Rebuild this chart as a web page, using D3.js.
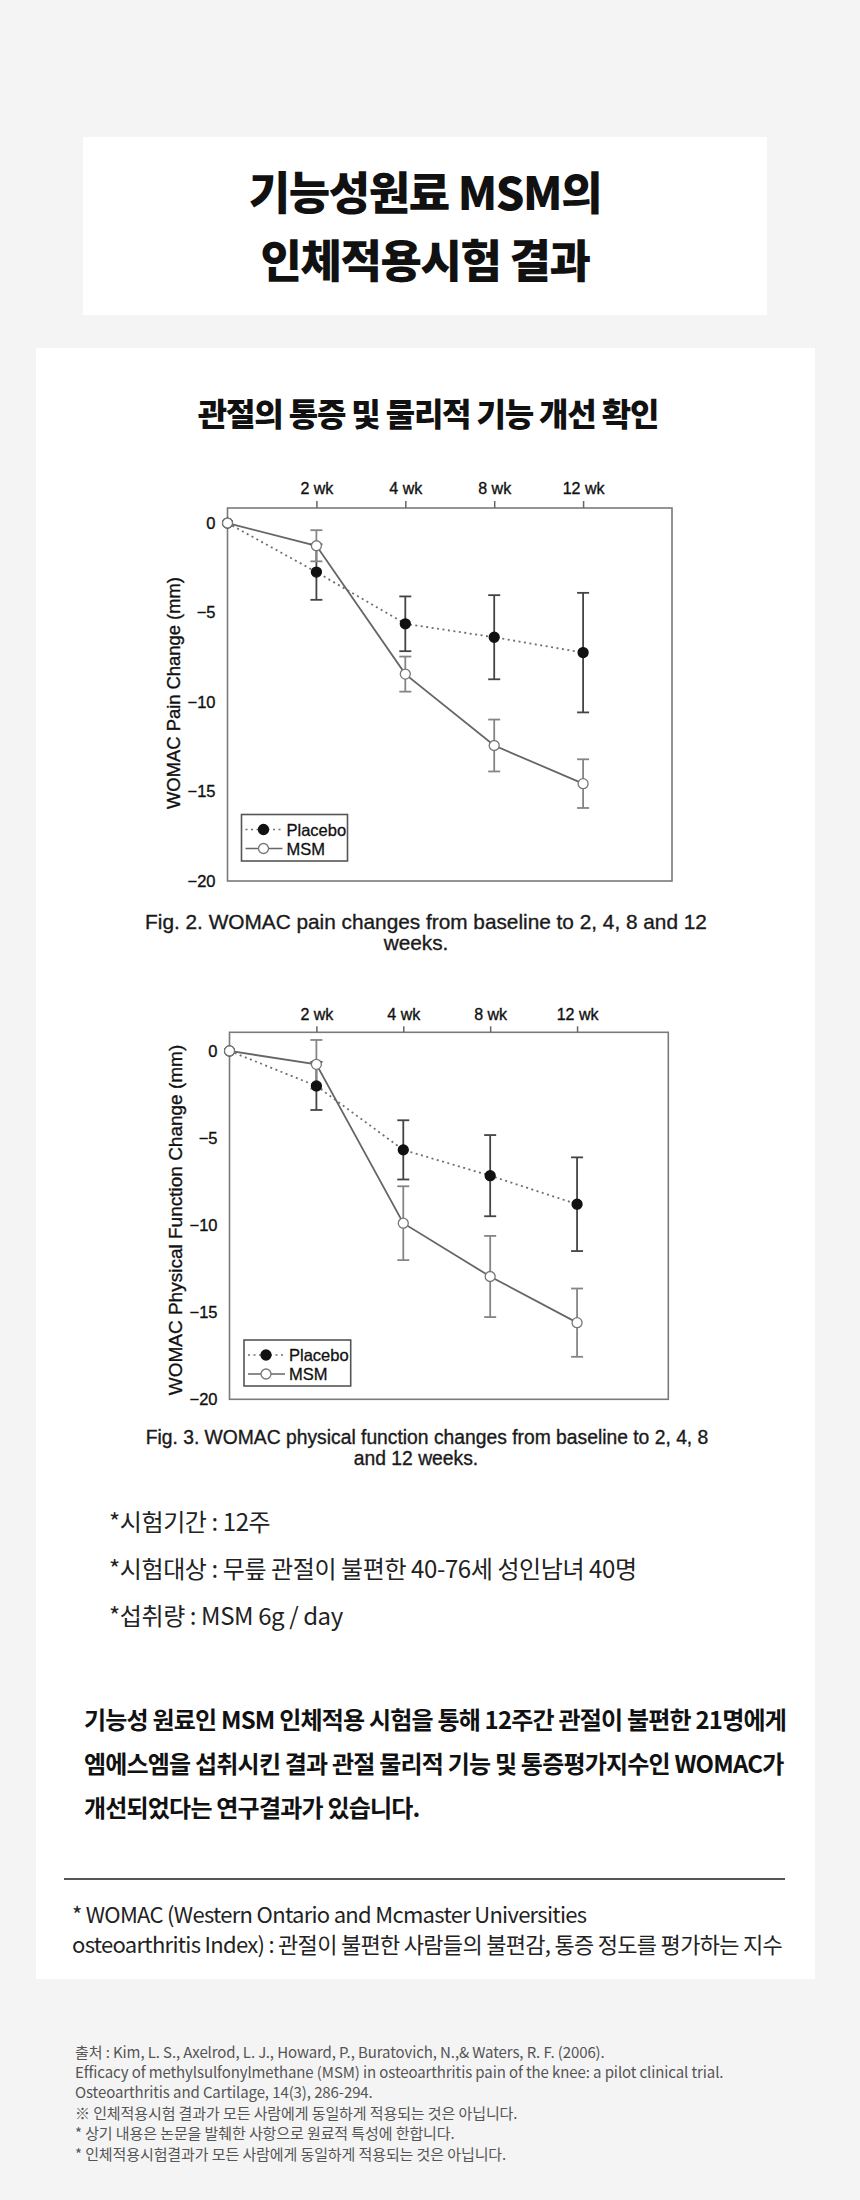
<!DOCTYPE html>
<html>
<head>
<meta charset="utf-8">
<script src="https://cdn.jsdelivr.net/npm/d3@7/dist/d3.min.js"></script>
<style>
  html, body { margin: 0; padding: 0; background: #f4f4f4; }
  svg { display: block; }
  .kr { font-family: "Noto Sans CJK KR", "Noto Sans", sans-serif; }
  .en { font-family: "Liberation Sans", Arial, sans-serif; }
</style>
</head>
<body>
<svg id="page" width="860" height="2200"></svg>
<script>
// ---------- data ----------
const weekLabels = ["0", "2 wk", "4 wk", "8 wk", "12 wk"];
const weekIndex = [0, 1, 2, 3, 4];
const yTicks = [0, -5, -10, -15, -20];
const seriesNames = ["Placebo", "MSM"];

// Fig. 2 WOMAC pain change (mm)
const painPlacebo    = [0, -2.74, -5.63, -6.38, -7.24];
const painPlaceboErr = [0, 1.55, 1.53, 2.35, 3.34];
const painMSM        = [0, -1.27, -8.44, -12.43, -14.56];
const painMSMErr     = [0, 0.87, 0.98, 1.45, 1.36];

// Fig. 3 WOMAC physical function change (mm)
const funcPlacebo    = [0, -2.01, -5.68, -7.16, -8.80];
const funcPlaceboErr = [0, 1.38, 1.70, 2.33, 2.69];
const funcMSM        = [0, -0.77, -9.89, -12.95, -15.60];
const funcMSMErr     = [0, 1.40, 2.12, 2.33, 1.96];

// ---------- texts ----------
const titleLines = ["기능성원료 MSM의", "인체적용시험 결과"];
const subtitle = "관절의 통증 및 물리적 기능 개선 확인";
const fig2Caption = ["Fig. 2. WOMAC pain changes from baseline to 2, 4, 8 and 12", "weeks."];
const fig3Caption = ["Fig. 3. WOMAC physical function changes from baseline to 2, 4, 8", "and 12 weeks."];
const infoLines = ["*시험기간 : 12주", "*시험대상 : 무릎 관절이 불편한 40-76세 성인남녀 40명", "*섭취량 : MSM 6g / day"];
const summaryLines = [
  "기능성 원료인 MSM 인체적용 시험을 통해 12주간 관절이 불편한 21명에게",
  "엠에스엠을 섭취시킨 결과 관절 물리적 기능 및 통증평가지수인 WOMAC가",
  "개선되었다는 연구결과가 있습니다."
];
const womacNote = [
  "* WOMAC (Western Ontario and Mcmaster Universities",
  "osteoarthritis Index) : 관절이 불편한 사람들의 불편감, 통증 정도를 평가하는 지수"
];
const sourceLines = [
  "출처 :  Kim, L. S., Axelrod, L. J., Howard, P., Buratovich, N.,& Waters, R. F. (2006).",
  "Efficacy of methylsulfonylmethane (MSM) in osteoarthritis pain of the knee: a pilot clinical trial.",
  "Osteoarthritis and Cartilage, 14(3), 286-294.",
  "※ 인체적용시험 결과가 모든 사람에게 동일하게 적용되는 것은 아닙니다.",
  "* 상기 내용은 논문을 발췌한 사항으로 원료적 특성에 한합니다.",
  "* 인체적용시험결과가 모든 사람에게 동일하게 적용되는 것은 아닙니다."
];

// ---------- page ----------
const svg = d3.select("#page");
svg.append("rect").attr("width", 860).attr("height", 2200).attr("fill", "#f4f4f4");
svg.append("rect").attr("x", 83).attr("y", 137).attr("width", 684).attr("height", 178).attr("fill", "#fff");
svg.append("rect").attr("x", 36).attr("y", 348).attr("width", 779).attr("height", 1631).attr("fill", "#fff");

function textLines(lines, opt) {
  lines.forEach((t, i) => {
    svg.append("text")
      .attr("class", opt.cls || "kr")
      .attr("x", opt.x)
      .attr("y", opt.y + i * opt.dy)
      .attr("text-anchor", opt.anchor || "start")
      .attr("dominant-baseline", "central")
      .attr("font-size", opt.size)
      .attr("font-weight", opt.weight || 400)
      .attr("fill", opt.fill || "#111")
      .style("letter-spacing", (opt.ls || 0) + "px")
      .text(t);
  });
}

textLines(titleLines, { x: 425, y: 190, dy: 68, anchor: "middle", size: 45, weight: 900, ls: -1.4, fill: "#111" });
textLines([subtitle], { x: 428, y: 412, dy: 0, anchor: "middle", size: 32, weight: 900, ls: -1.2, fill: "#111" });

// ---------- chart ----------
function drawChart(cfg) {
  const g = svg.append("g").attr("class", "en");
  const x = d3.scaleLinear().domain([0, cfg.xMax]).range([cfg.left, cfg.right]);
  const y = d3.scaleLinear().domain([-20, cfg.yMax]).range([cfg.bottom, cfg.top]);

  // frame
  g.append("rect")
    .attr("x", cfg.left).attr("y", cfg.top)
    .attr("width", cfg.right - cfg.left).attr("height", cfg.bottom - cfg.top)
    .attr("fill", "none").attr("stroke", "#7a7a7a").attr("stroke-width", 1.6);

  // top axis
  const ax = g.append("g").attr("transform", `translate(0,${cfg.top})`)
    .call(d3.axisTop(x).tickValues(weekIndex.slice(1)).tickFormat(i => weekLabels[i])
      .tickSize(cfg.tick).tickPadding(cfg.tickPad));
  ax.select(".domain").remove();
  ax.selectAll(".tick line").attr("stroke", "#666").attr("stroke-width", 1.5);
  ax.selectAll("text").attr("font-size", 16).attr("fill", "#111")
    .attr("stroke", "#111").attr("stroke-width", 0.35)
    .attr("font-family", "Liberation Sans, Arial, sans-serif");

  // left axis
  const ay = g.append("g").attr("transform", `translate(${cfg.left},0)`)
    .call(d3.axisLeft(y).tickValues(yTicks).tickFormat(d3.format("d")).tickSize(0).tickPadding(12));
  ay.select(".domain").remove();
  ay.selectAll("text").attr("font-size", 16.5).attr("fill", "#111")
    .attr("stroke", "#111").attr("stroke-width", 0.35)
    .attr("font-family", "Liberation Sans, Arial, sans-serif");

  // y label
  g.append("text")
    .attr("transform", `translate(${cfg.labelX},${cfg.labelY}) rotate(-90)`)
    .attr("text-anchor", "middle").attr("dominant-baseline", "central")
    .attr("font-size", cfg.labelSize).attr("fill", "#111")
    .attr("stroke", "#111").attr("stroke-width", 0.35)
    .text(cfg.yLabel);

  const series = [
    { name: seriesNames[0], v: cfg.placebo, e: cfg.placeboErr, dash: "2,3.5", line: "#6f6f6f", bar: "#444", fill: "#111", stroke: "#111" },
    { name: seriesNames[1], v: cfg.msm, e: cfg.msmErr, dash: null, line: "#666", bar: "#858585", fill: "#fff", stroke: "#777" }
  ];

  const line = d3.line().x((d, i) => x(weekIndex[i])).y(d => y(d));
  series.forEach(s => {
    g.append("path").datum(s.v)
      .attr("d", line).attr("fill", "none")
      .attr("stroke", s.line).attr("stroke-width", 1.8)
      .attr("stroke-dasharray", s.dash);
  });

  series.forEach(s => {
    const bars = g.append("g");
    s.v.forEach((v, i) => {
      if (!s.e[i]) return;
      const cx = x(weekIndex[i]);
      const y1 = y(v + s.e[i]), y2 = y(v - s.e[i]);
      bars.append("line").attr("x1", cx).attr("x2", cx).attr("y1", y1).attr("y2", y2)
        .attr("stroke", s.bar).attr("stroke-width", 1.8);
      [y1, y2].forEach(yy => bars.append("line")
        .attr("x1", cx - 6).attr("x2", cx + 6).attr("y1", yy).attr("y2", yy)
        .attr("stroke", s.bar).attr("stroke-width", 1.8));
    });
  });

  series.forEach(s => {
    g.append("g").selectAll("circle").data(s.v).join("circle")
      .attr("cx", (d, i) => x(weekIndex[i])).attr("cy", d => y(d))
      .attr("r", 5).attr("fill", s.fill).attr("stroke", s.stroke).attr("stroke-width", 1.3);
  });

  // legend
  const L = cfg.legend;
  g.append("rect").attr("x", L.x).attr("y", L.y).attr("width", L.w).attr("height", L.h)
    .attr("fill", "#fff").attr("stroke", "#555").attr("stroke-width", 1.6);
  series.forEach((s, k) => {
    const ly = L.y + 15 + k * 19;
    g.append("line").attr("x1", L.x + 4).attr("x2", L.x + 41).attr("y1", ly).attr("y2", ly)
      .attr("stroke", s.line).attr("stroke-width", 1.7).attr("stroke-dasharray", s.dash);
    g.append("circle").attr("cx", L.x + 22).attr("cy", ly).attr("r", 5)
      .attr("fill", s.fill).attr("stroke", s.stroke).attr("stroke-width", 1.3);
    g.append("text").attr("x", L.x + 45).attr("y", ly).attr("dominant-baseline", "central")
      .attr("font-size", 16.5).attr("fill", "#111")
      .attr("stroke", "#111").attr("stroke-width", 0.3).text(s.name);
  });

  // caption
  cfg.caption.forEach((t, i) => {
    g.append("text").attr("x", cfg.capX[i]).attr("y", cfg.capY + i * 21)
      .attr("text-anchor", "middle").attr("dominant-baseline", "central")
      .attr("font-size", cfg.capSize).attr("fill", "#1a1a1a")
      .attr("stroke", "#1a1a1a").attr("stroke-width", 0.35).text(t);
  });
}

drawChart({
  left: 227.5, right: 672, top: 508, bottom: 881, xMax: 5, yMax: 0.84,
  tick: 7, tickPad: 7,
  placebo: painPlacebo, placeboErr: painPlaceboErr, msm: painMSM, msmErr: painMSMErr,
  yLabel: "WOMAC Pain Change (mm)", labelX: 173.5, labelY: 693, labelSize: 18.4,
  legend: { x: 241.5, y: 814.5, w: 106, h: 46.5 },
  caption: fig2Caption, capX: [426, 416], capY: 921, capSize: 20.8
});

drawChart({
  left: 229.5, right: 668.3, top: 1032.3, bottom: 1399.3, xMax: 5.05, yMax: 1.07,
  tick: 6, tickPad: 6,
  placebo: funcPlacebo, placeboErr: funcPlaceboErr, msm: funcMSM, msmErr: funcMSMErr,
  yLabel: "WOMAC Physical Function Change (mm)", labelX: 175, labelY: 1220, labelSize: 19,
  legend: { x: 244, y: 1340, w: 106.7, h: 46 },
  caption: fig3Caption, capX: [427, 416], capY: 1437, capSize: 19.3
});

// ---------- text blocks ----------
textLines(infoLines, { x: 109, y: 1520, dy: 47, size: 24, weight: 400, ls: -0.4, fill: "#222" });
textLines(summaryLines, { x: 84, y: 1718, dy: 44, size: 24, weight: 700, ls: -0.8, fill: "#111" });

svg.append("line").attr("x1", 64).attr("x2", 785).attr("y1", 1879).attr("y2", 1879)
  .attr("stroke", "#555").attr("stroke-width", 2);
textLines(womacNote, { x: 72, y: 1913, dy: 30, size: 22, weight: 400, ls: -0.7, fill: "#222" });

textLines(sourceLines, { x: 75, y: 2051, dy: 20.4, size: 15, weight: 400, ls: -0.1, fill: "#555" });
</script>
</body>
</html>
